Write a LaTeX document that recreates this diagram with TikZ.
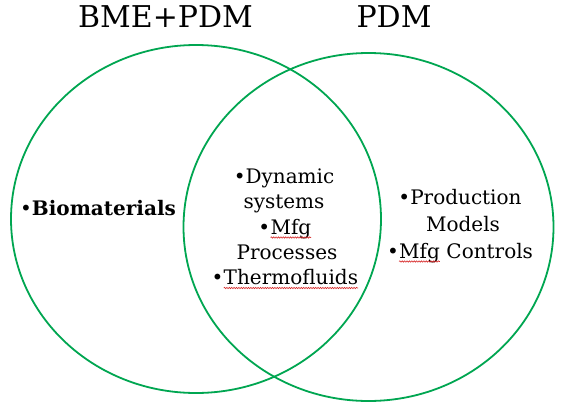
\documentclass[tikz,border=0pt]{standalone}
\usepackage{fontspec}
\setmainfont{DejaVu Serif}
\usetikzlibrary{shapes.geometric,decorations.pathmorphing}
\definecolor{venn}{RGB}{0,166,81}
\definecolor{spell}{RGB}{215,40,40}
\newcommand\spellwave[1]{\tikz[baseline=(w.base)]{\node[inner sep=0pt, outer sep=0pt, anchor=base] (w) at (0,0) {#1};
  \draw[spell, line width=0.6pt, decorate, decoration={snake, amplitude=0.7pt, segment length=2.4pt}] ([yshift=-3.5pt]w.base west) -- ([yshift=-3.5pt]w.base east);}}
\tikzset{
  setring/.style={ellipse, draw=venn, line width=1.8pt, minimum width=370pt, minimum height=348pt, inner sep=0pt},
  titletext/.style={inner sep=0pt, anchor=base, font=\fontsize{30}{34}\selectfont},
  bodytext/.style={inner sep=0pt, anchor=base, font=\fontsize{20}{24}\selectfont},
}
\begin{document}
\begin{tikzpicture}[x=1pt,y=-1pt]
\useasboundingbox (0,0) rectangle (572,412);
\fill[white] (0,0) rectangle (572,412);
% sets
\node[setring] (left) at (196,219) {};
\node[setring] (right) at (368.5,227) {};
% titles
\node[titletext] (t1) at (165.5,28) {BME+PDM};
\node[titletext] (t2) at (394,28) {PDM};
% left only
\node[bodytext, anchor=base west] (bio) at (20,215) {•\textbf{Biomaterials}};
% intersection
\node[bodytext] (c1) at (284,183) {•Dynamic};
\node[bodytext] (c2) at (284,208.5) {systems};
\node[bodytext] (c3) at (285,234) {•\spellwave{Mfg}};
\node[bodytext] (c4) at (287,259) {Processes};
\node[bodytext] (c5) at (285,284.5) {•\spellwave{Thermofluids}};
% right only
\node[bodytext] (r1) at (460,204) {•Production};
\node[bodytext] (r2) at (463,231) {Models};
\node[bodytext] (r3) at (460,258) {•\spellwave{Mfg} Controls};
\end{tikzpicture}
\end{document}
